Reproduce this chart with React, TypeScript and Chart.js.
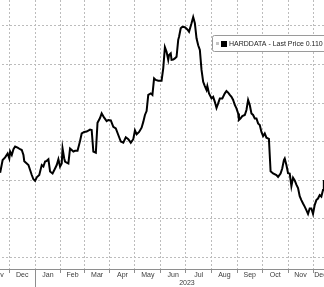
import { useEffect, useRef } from 'react';
import { Chart, registerables } from 'chart.js';

Chart.register(...registerables);

// ---- data ----
const seriesName = 'HARDDATA - Last Price';
const lastPriceText = '0.110';

// days since 1 Nov 2022
const dayOffsets = [
  19, 22, 25, 28, 30, 31, 33, 35, 37, 40,
  43, 45, 47, 48, 51, 53, 55, 57, 59, 61,
  63, 66, 69, 71, 73, 75, 77, 79, 82, 85,
  87, 89, 91, 93, 94, 96, 97, 99, 101, 103,
  105, 107, 109, 112, 115, 117, 120, 123, 127, 129,
  131, 134, 136, 139, 141, 144, 147, 149, 152, 155,
  158, 161, 164, 167, 170, 173, 176, 179, 181, 183,
  186, 189, 191, 193, 195, 197, 200, 202, 204, 206,
  209, 213, 215, 217, 219, 221, 222, 224, 225, 227,
  229, 231, 233, 234, 236, 238, 241, 244, 246, 249,
  251, 253, 255, 257, 259, 261, 263, 265, 267, 268,
  270, 273, 275, 277, 279, 281, 283, 286, 289, 291,
  293, 295, 297, 299, 301, 303, 305, 306, 308, 310,
  313, 315, 317, 319, 321, 323, 325, 327, 329, 331,
  333, 335, 337, 339, 342, 344, 347, 351, 353, 356,
  358, 360, 361, 363, 365, 367, 369, 371, 373, 375,
  377, 379, 381, 383, 385, 387, 389, 391, 393, 395,
  397, 399, 401, 403, 405, 407, 408,
];

const values = [
  0.119, 0.152, 0.159, 0.169, 0.156, 0.174, 0.165, 0.180, 0.187, 0.184,
  0.180, 0.178, 0.165, 0.149, 0.143, 0.139, 0.126, 0.113, 0.102, 0.098,
  0.107, 0.113, 0.139, 0.135, 0.148, 0.150, 0.154, 0.122, 0.117, 0.130,
  0.139, 0.154, 0.135, 0.143, 0.182, 0.156, 0.148, 0.145, 0.143, 0.182,
  0.178, 0.174, 0.176, 0.176, 0.201, 0.221, 0.225, 0.226, 0.231, 0.230,
  0.174, 0.171, 0.249, 0.261, 0.273, 0.262, 0.253, 0.256, 0.255, 0.238,
  0.234, 0.217, 0.200, 0.197, 0.211, 0.206, 0.197, 0.206, 0.229, 0.219,
  0.225, 0.236, 0.251, 0.269, 0.279, 0.321, 0.325, 0.321, 0.364, 0.360,
  0.358, 0.358, 0.390, 0.445, 0.433, 0.412, 0.425, 0.429, 0.412, 0.413,
  0.416, 0.420, 0.464, 0.472, 0.494, 0.498, 0.497, 0.491, 0.485, 0.507,
  0.523, 0.507, 0.468, 0.450, 0.438, 0.386, 0.355, 0.344, 0.334, 0.344,
  0.325, 0.312, 0.316, 0.303, 0.287, 0.299, 0.312, 0.312, 0.325, 0.331,
  0.327, 0.321, 0.316, 0.308, 0.295, 0.286, 0.273, 0.256, 0.260, 0.266,
  0.269, 0.282, 0.308, 0.295, 0.273, 0.269, 0.260, 0.260, 0.247, 0.243,
  0.225, 0.214, 0.221, 0.210, 0.207, 0.123, 0.117, 0.113, 0.108, 0.117,
  0.130, 0.152, 0.156, 0.139, 0.118, 0.117, 0.084, 0.106, 0.099, 0.088,
  0.079, 0.058, 0.048, 0.039, 0.031, 0.022, 0.012, 0.026, 0.026, 0.012,
  0.035, 0.048, 0.052, 0.061, 0.057, 0.074, 0.100,
];

const monthNames = ['Jan', 'Feb', 'Mar', 'Apr', 'May', 'Jun', 'Jul', 'Aug', 'Sep', 'Oct', 'Nov', 'Dec'];
const yearLabel = '2023';
const yGridValues = [-0.1, 0, 0.1, 0.2, 0.3, 0.4, 0.5];

// axis ranges of the original (cropped) chart
const X_MIN = 2;
const X_MAX = 413;
const Y_MIN = -0.131;
const Y_MAX = 0.5675;

// ---- derived ----
const DAY0 = Date.UTC(2022, 10, 1);
const dayOf = (y: number, m: number) => Math.round((Date.UTC(y, m, 1) - DAY0) / 86400000);

const months: { label: string; start: number; end: number }[] = [];
for (let i = 0; i < 14; i++) {
  const y = 2022 + Math.floor((10 + i) / 12);
  const m = (10 + i) % 12;
  months.push({ label: monthNames[m], start: dayOf(y, m), end: dayOf(y, m + 1) });
}
const boundaryTicks = months.map((mo) => mo.start).filter((d) => d > X_MIN && d < X_MAX);
const monthLabelTicks = months.map((mo) => ({
  value: (Math.max(mo.start, X_MIN) + Math.min(mo.end, X_MAX)) / 2,
  label: mo.label,
}));
const yearStart = dayOf(2023, 0);
const yearMid = (dayOf(2023, 0) + dayOf(2024, 0)) / 2;

const GRID = '#bcbcbc';
const AXIS = '#8e8e8e';
const TEXT = '#3a3a3a';
const FONT = { family: '"Liberation Sans", Arial, sans-serif', size: 7 };

const legendPlugin = {
  id: 'boxLegend',
  afterDraw(chart: any) {
    const { ctx, chartArea } = chart;
    const x = chartArea.right - 116;
    const y = chartArea.top + 35;
    ctx.save();
    ctx.fillStyle = '#ffffff';
    ctx.strokeStyle = '#9a9a9a';
    ctx.lineWidth = 1;
    ctx.beginPath();
    if (ctx.roundRect) ctx.roundRect(x + 0.5, y + 0.5, 130, 16, 2);
    else ctx.rect(x + 0.5, y + 0.5, 130, 16);
    ctx.fill();
    ctx.stroke();
    ctx.fillStyle = '#c4c4c4';
    ctx.fillRect(x + 4, y + 7, 3, 3);
    ctx.fillStyle = '#000000';
    ctx.fillRect(x + 9, y + 6, 6, 6);
    ctx.fillStyle = '#222222';
    ctx.font = `7px ${FONT.family}`;
    ctx.textBaseline = 'middle';
    ctx.textAlign = 'left';
    ctx.fillText(`${seriesName} ${lastPriceText}`, x + 17, y + 9);
    ctx.restore();
  },
};

export default function App() {
  const ref = useRef<HTMLCanvasElement | null>(null);

  useEffect(() => {
    if (!ref.current) return;
    const chart = new Chart(ref.current, {
      type: 'line',
      data: {
        datasets: [
          {
            label: seriesName,
            data: dayOffsets.map((d, i) => ({ x: d, y: values[i] })),
            borderColor: '#000000',
            borderWidth: 2,
            pointRadius: 0,
            tension: 0,
            fill: false,
          },
        ],
      },
      options: {
        animation: false,
        responsive: true,
        maintainAspectRatio: false,
        layout: { padding: { left: 40, right: 40, top: 0, bottom: 0 } },
        plugins: { legend: { display: false }, tooltip: { enabled: false } },
        scales: {
          x: {
            type: 'linear',
            position: 'bottom',
            min: X_MIN,
            max: X_MAX,
            afterBuildTicks: (s: any) => {
              s.ticks = boundaryTicks.map((v) => ({ value: v }));
            },
            afterFit: (s: any) => {
              s.height = 0;
            },
            ticks: { display: false },
            grid: {
              display: true,
              drawOnChartArea: true,
              drawTicks: true,
              tickLength: 18,
              color: GRID,
              lineWidth: 1,
              tickColor: AXIS,
              tickWidth: 1,
              tickBorderDash: (ctx: any) => (ctx.tick && ctx.tick.value === yearStart ? [] : [3, 40]),
            } as any,
            border: { display: true, color: AXIS, width: 1, dash: [2, 2] },
          },
          xl: {
            type: 'linear',
            position: 'bottom',
            min: X_MIN,
            max: X_MAX,
            afterBuildTicks: (s: any) => {
              s.ticks = monthLabelTicks.map((t) => ({ value: t.value }));
            },
            afterFit: (s: any) => {
              s.height = 10;
            },
            ticks: {
              autoSkip: false,
              maxRotation: 0,
              minRotation: 0,
              padding: 2,
              font: FONT,
              color: TEXT,
              callback: (_v: any, i: number) => monthLabelTicks[i]?.label ?? '',
            },
            grid: { display: false, drawTicks: false },
            border: { display: false },
          },
          xy: {
            type: 'linear',
            position: 'bottom',
            min: X_MIN,
            max: X_MAX,
            afterBuildTicks: (s: any) => {
              s.ticks = [{ value: yearMid }];
            },
            afterFit: (s: any) => {
              s.height = 8;
            },
            ticks: {
              autoSkip: false,
              maxRotation: 0,
              minRotation: 0,
              padding: 0,
              font: FONT,
              color: TEXT,
              callback: () => yearLabel,
            },
            grid: { display: false, drawTicks: false },
            border: { display: false },
          },
          y: {
            type: 'linear',
            position: 'right',
            min: Y_MIN,
            max: Y_MAX,
            afterBuildTicks: (s: any) => {
              s.ticks = yGridValues.map((v) => ({ value: v }));
            },
            ticks: { display: false },
            grid: { color: GRID, lineWidth: 1, drawTicks: false },
            border: { display: false, dash: [2, 2] },
          },
        },
      } as any,
      plugins: [legendPlugin],
    });
    return () => chart.destroy();
  }, []);

  return (
    <div
      style={{
        position: 'absolute',
        left: 0,
        top: 0,
        width: 324,
        height: 287,
        overflow: 'hidden',
        background: '#ffffff',
      }}
    >
      <div style={{ position: 'absolute', left: -54, top: 0, width: 422, height: 287 }}>
        <canvas ref={ref} />
      </div>
    </div>
  );
}
